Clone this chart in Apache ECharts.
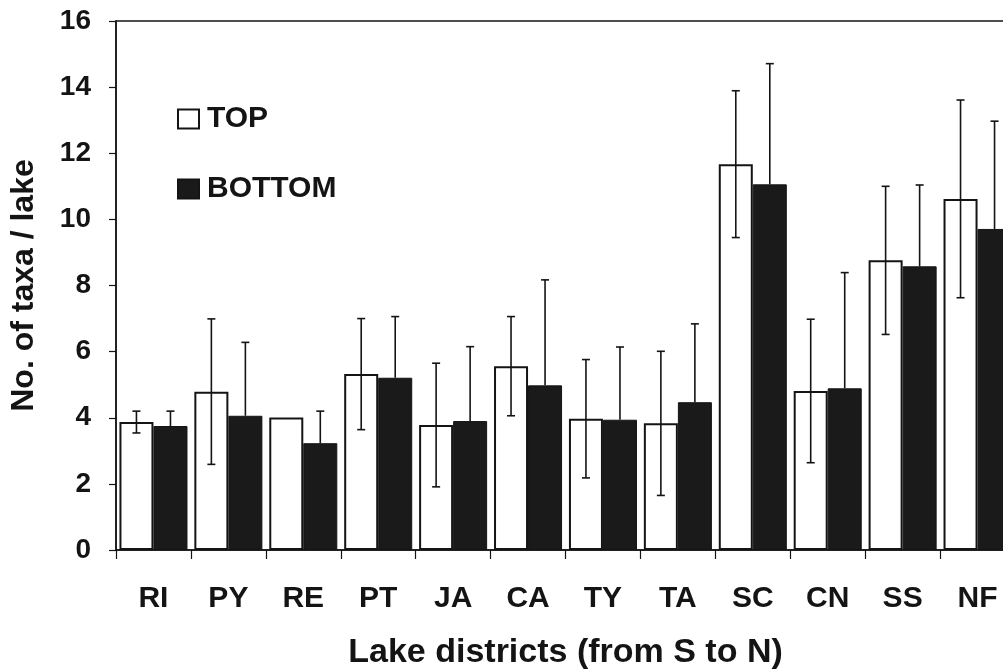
<!DOCTYPE html>
<html>
<head>
<meta charset="utf-8">
<script src="https://cdn.jsdelivr.net/npm/echarts@6/dist/echarts.min.js"></script>
<style>html,body{margin:0;padding:0;background:#fff}#c{width:1003px;height:670px}</style>
</head>
<body>
<div id="c"></div>
<script>
const categories = ['RI','PY','RE','PT','JA','CA','TY','TA','SC','CN','SS','NF'];
const topMean    = [3.87, 4.79, 4.01, 5.32, 3.78, 5.56, 3.97, 3.83, 11.67, 4.81, 8.76, 10.62];
const topErr     = [0.33, 2.20, 0.00, 1.68, 1.87, 1.50, 1.79, 2.18, 2.22, 2.17, 2.24, 2.99];
const bottomMean = [3.75, 4.06, 3.23, 5.21, 3.90, 4.98, 3.94, 4.47, 11.06, 4.89, 8.58, 9.71];
const bottomErr  = [0.45, 2.22, 0.97, 1.85, 2.25, 3.19, 2.20, 2.37, 3.65, 3.50, 2.46, 3.26];
const yTicks = [0,2,4,6,8,10,12,14,16];

const FONT = 'Liberation Sans, Arial, sans-serif';
const INK = '#141414';
const CAT_GAP = 0.092;

function errData(mean, err) {
  return mean.map((m, i) => [i, m - err[i], m + err[i], m]);
}
// side: -1 = left bar (TOP), +1 = right bar (BOTTOM); upperOnly hides the part inside a black bar
function errRender(side, upperOnly) {
  return function (params, api) {
    const i = api.value(0), lo = api.value(1), hi = api.value(2), m = api.value(3);
    if (hi - lo < 1e-6) return null;
    const band = api.size([1, 0])[0];
    const bw = band * (1 - CAT_GAP) / 2;
    const cx = api.coord([i, 0])[0] + side * bw / 2;
    const yHi = api.coord([i, hi])[1];
    const yLo = api.coord([i, upperOnly ? m : lo])[1];
    const cap = 4;
    const st = { stroke: INK, lineWidth: 1.6 };
    const kids = [
      { type: 'line', shape: { x1: cx, y1: yHi, x2: cx, y2: yLo }, style: st },
      { type: 'line', shape: { x1: cx - cap, y1: yHi, x2: cx + cap, y2: yHi }, style: st }
    ];
    if (!upperOnly) kids.push({ type: 'line', shape: { x1: cx - cap, y1: yLo, x2: cx + cap, y2: yLo }, style: st });
    return { type: 'group', children: kids };
  };
}

const chart = echarts.init(document.getElementById('c'), null, { renderer: 'canvas' });
chart.setOption({
  animation: false,
  backgroundColor: '#fff',
  textStyle: { fontFamily: FONT },
  grid: { left: 116, top: 21, width: 899, bottom: 120, outerBoundsMode: 'none', containLabel: false,
    show: true, borderColor: INK, borderWidth: 1.5, backgroundColor: 'transparent' },
  legend: {
    orient: 'vertical', left: 177, top: 104, padding: 0,
    itemWidth: 21, itemHeight: 19, itemGap: 40, icon: 'rect',
    textStyle: { fontFamily: FONT, fontWeight: 'bold', fontSize: 30, color: INK, lineHeight: 30, padding: [0,0,0,3] },
    data: ['TOP', 'BOTTOM']
  },
  xAxis: {
    type: 'category', data: categories,
    axisLine: { lineStyle: { color: INK, width: 1.5 } },
    axisTick: { show: true, length: 9, lineStyle: { color: INK, width: 1.2 } },
    axisLabel: { fontFamily: FONT, fontWeight: 'bold', fontSize: 30, color: INK, margin: 34 },
    name: 'Lake districts (from S to N)', nameLocation: 'middle', nameGap: 86,
    nameTextStyle: { fontFamily: FONT, fontWeight: 'bold', fontSize: 34, color: INK }
  },
  yAxis: {
    type: 'value', min: 0, max: 16, interval: 2,
    axisLine: { show: true, lineStyle: { color: INK, width: 1.5 } },
    axisTick: { show: true, length: 7, lineStyle: { color: INK, width: 1.2 } },
    splitLine: { show: false },
    axisLabel: { fontFamily: FONT, fontWeight: 'bold', fontSize: 28, color: INK, margin: 25,
      formatter: v => yTicks.includes(v) ? String(v) : '' },
    name: 'No. of taxa / lake', nameLocation: 'middle', nameGap: 76,
    nameTextStyle: { fontFamily: FONT, fontWeight: 'bold', fontSize: 32, color: INK }
  },
  series: [
    { name: 'TOP', type: 'bar', data: topMean, barGap: '0%', barCategoryGap: (CAT_GAP*100)+'%',
      itemStyle: { color: '#ffffff', borderColor: INK, borderWidth: 2 } },
    { name: 'BOTTOM', type: 'bar', data: bottomMean, barGap: '0%', barCategoryGap: (CAT_GAP*100)+'%',
      itemStyle: { color: '#1a1a1a', borderColor: INK, borderWidth: 1 } },
    { name: 'errTop', type: 'custom', data: errData(topMean, topErr), renderItem: errRender(-1, false),
      encode: { x: 0, y: [1, 2] }, z: 10, silent: true },
    { name: 'errBottom', type: 'custom', data: errData(bottomMean, bottomErr), renderItem: errRender(1, true),
      encode: { x: 0, y: [1, 2] }, z: 10, silent: true }
  ]
});
</script>
</body>
</html>
